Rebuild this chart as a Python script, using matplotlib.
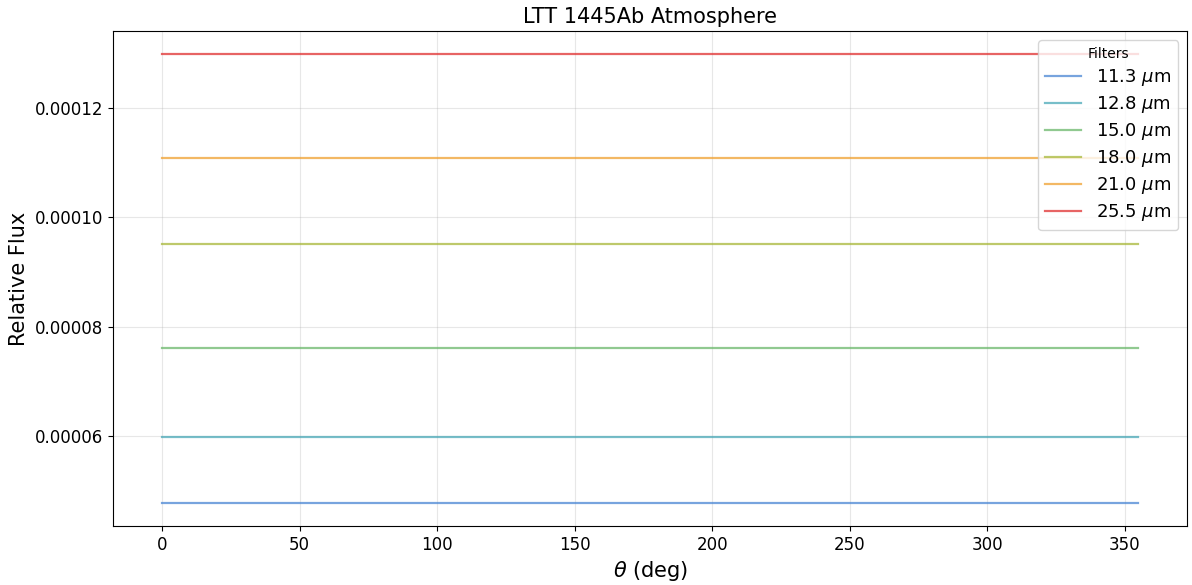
import numpy as np
import matplotlib.pyplot as plt

theta = np.arange(0, 360, 5)
filters = ['11.3', '12.8', '15.0', '18.0', '21.0', '25.5']
flux_levels = [4.76e-5, 5.97e-5, 7.60e-5, 9.51e-5, 1.109e-4, 1.300e-4]
colors = ['#4a86d4', '#4aa9b8', '#6bb86b', '#a8b83a', '#f0a030', '#e03030']

fig, ax = plt.subplots(figsize=(11.92, 5.85), dpi=100)
fig.subplots_adjust(left=0.095, right=0.996, top=0.947, bottom=0.101)

for f, lvl, c in zip(filters, flux_levels, colors):
    ax.plot(theta, np.full(theta.shape, lvl), color=c, alpha=0.75,
            linewidth=1.6, label=f'{f} $\\mu$m')

ax.set_title('LTT 1445Ab Atmosphere', fontsize=15)
ax.set_xlabel(r'$\theta$ (deg)', fontsize=15)
ax.set_ylabel('Relative Flux', fontsize=15)
ax.tick_params(labelsize=12)
ax.grid(alpha=0.3)
leg = ax.legend(title='Filters', fontsize=13, title_fontsize=10,
                loc='upper right', labelspacing=0.33)

plt.savefig('out.png', dpi=100)
